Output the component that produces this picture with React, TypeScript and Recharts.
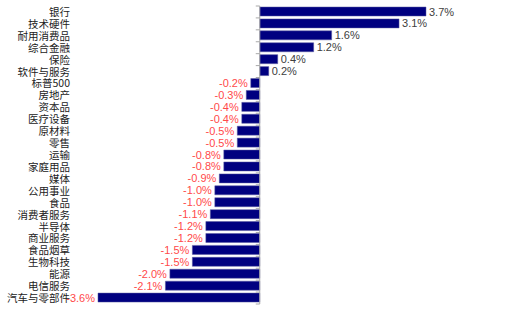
import { BarChart, Bar, XAxis, YAxis, ReferenceLine, LabelList } from "recharts";

// sector names, top to bottom
const categories = [
  "银行",
  "技术硬件",
  "耐用消费品",
  "综合金融",
  "保险",
  "软件与服务",
  "标普500",
  "房地产",
  "资本品",
  "医疗设备",
  "原材料",
  "零售",
  "运输",
  "家庭用品",
  "媒体",
  "公用事业",
  "食品",
  "消费者服务",
  "半导体",
  "商业服务",
  "食品烟草",
  "生物科技",
  "能源",
  "电信服务",
  "汽车与零部件",
];

// weekly change, %
const changes = [
  3.7, 3.1, 1.6, 1.2, 0.4, 0.2, -0.2, -0.3, -0.4, -0.4, -0.5, -0.5, -0.8,
  -0.8, -0.9, -1.0, -1.0, -1.1, -1.2, -1.2, -1.5, -1.5, -2.0, -2.1, -3.6,
];

const data = categories.map((name, i) => ({ name, value: changes[i] }));

const CategoryTick = (props: any) => {
  const { y, payload } = props;
  return (
    <text
      x={70}
      y={y}
      dy={4}
      textAnchor="end"
      fontSize={10.5}
      fontFamily="'Noto Sans CJK SC', sans-serif"
      fill="#222"
    >
      {payload.value}
    </text>
  );
};

// zero axis with small ticks between the bars
const ZeroAxis = (props: any) => {
  const { x1, y1, y2 } = props;
  const top = Math.min(y1, y2);
  const bottom = Math.max(y1, y2);
  const n = categories.length;
  const ticks = [];
  for (let i = 0; i <= n; i++) {
    const ty = top + ((bottom - top) * i) / n;
    ticks.push(
      <line key={i} x1={x1 - 4} x2={x1} y1={ty} y2={ty} stroke="#a8a8a8" />
    );
  }
  return (
    <g>
      <line x1={x1} x2={x1} y1={top} y2={bottom} stroke="#a8a8a8" />
      {ticks}
    </g>
  );
};

const ValueLabel = (props: any) => {
  const { x, y, width, height, value } = props;
  const left = Math.min(x, x + width);
  const right = Math.max(x, x + width);
  const neg = value < 0;
  return (
    <text
      x={neg ? left - 3 : right + 3}
      y={y + height / 2}
      dy={4}
      textAnchor={neg ? "end" : "start"}
      fontSize={11}
      fontFamily="'Liberation Sans', Arial, sans-serif"
      fill={neg ? "#ff4a4a" : "#404040"}
    >
      {value.toFixed(1) + "%"}
    </text>
  );
};

export default function App() {
  return (
    <div style={{ width: 511, height: 313 }}>
      <style>{"body{margin:0}"}</style>
      <BarChart
        width={511}
        height={313}
        data={data}
        layout="vertical"
        margin={{ top: 6, right: 85, bottom: 9, left: 0 }}
      >
        <XAxis type="number" domain={[-3.6, 3.7]} hide />
        <YAxis
          type="category"
          dataKey="name"
          width={98}
          interval={0}
          axisLine={false}
          tickLine={false}
          tick={<CategoryTick />}
        />
        <Bar
          dataKey="value"
          fill="#000080"
          stroke="#5a5aa0"
          strokeWidth={0.5}
          barSize={9}
          isAnimationActive={false}
        >
          <LabelList dataKey="value" content={<ValueLabel />} />
        </Bar>
        <ReferenceLine x={0} shape={<ZeroAxis />} />
      </BarChart>
    </div>
  );
}
